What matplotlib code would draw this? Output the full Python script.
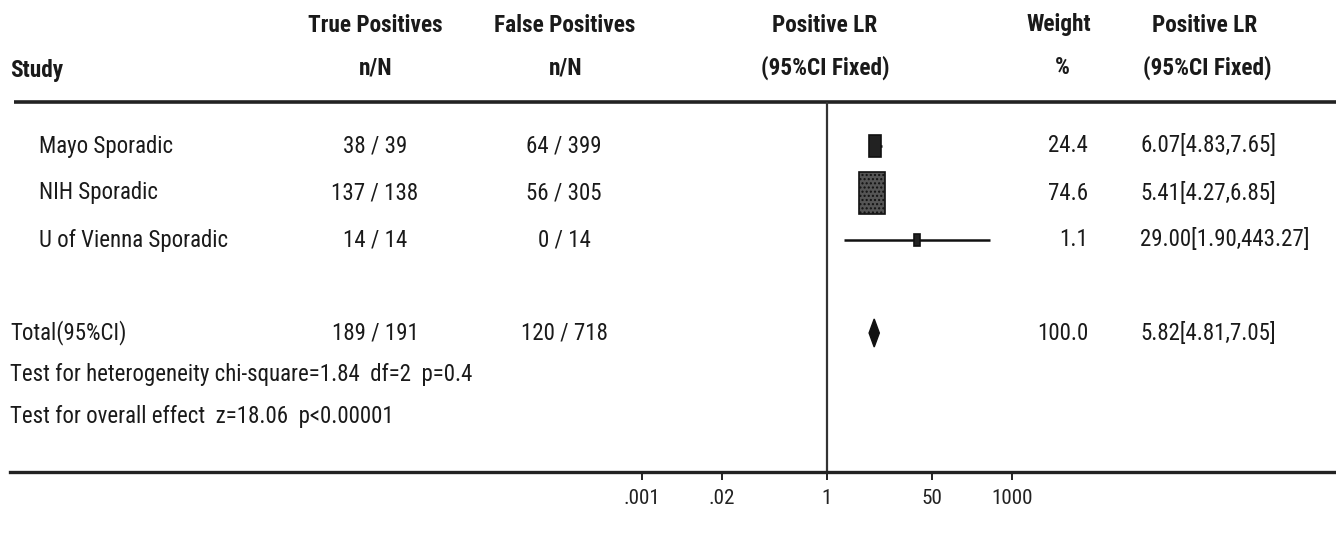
import numpy as np
import matplotlib
matplotlib.use("Agg")
import matplotlib.pyplot as plt
from matplotlib.patches import Rectangle, Polygon
from matplotlib import font_manager as fm

# ---------------- data ----------------
studies = ["Mayo Sporadic", "NIH Sporadic", "U of Vienna Sporadic"]
tp = ["38 / 39", "137 / 138", "14 / 14"]
fp = ["64 / 399", "56 / 305", "0 / 14"]
lr = [6.07, 5.41, 29.00]
lr_lo = [4.83, 4.27, 1.90]
lr_hi = [7.65, 6.85, 443.27]
weight = [24.4, 74.6, 1.1]

total_label = "Total(95%CI)"
total_tp = "189 / 191"
total_fp = "120 / 718"
total_lr = 5.82
total_lo = 4.81
total_hi = 7.05
total_weight = 100.0

het_text = "Test for heterogeneity chi-square=1.84  df=2  p=0.4"
overall_text = "Test for overall effect  z=18.06  p<0.00001"

xticks = [0.001, 0.02, 1, 50, 1000]
xticklabels = [".001", ".02", "1", "50", "1000"]

# ---------------- font choice (narrow sans if available) ----------------
fonts = fm.fontManager.ttflist
names = {f.name for f in fonts}
family, stretch = 'Liberation Sans', 'normal'
for cand in ['Liberation Sans Narrow', 'Arial Narrow', 'Noto Sans Condensed',
             'Roboto Condensed', 'Open Sans Condensed', 'DejaVu Sans Condensed']:
    if cand in names:
        family = cand
        break
else:
    for base in ['Noto Sans', 'Open Sans', 'Roboto', 'DejaVu Sans']:
        st = {f.stretch for f in fonts if f.name == base}
        if 'condensed' in st or 'semi-condensed' in st:
            family = base
            stretch = 'condensed' if 'condensed' in st else 'semi-condensed'
            break
plt.rcParams['font.family'] = [family, 'Liberation Sans', 'DejaVu Sans']
plt.rcParams['font.stretch'] = stretch

# ---------------- layout ----------------
W, H = 1336, 533
fig = plt.figure(figsize=(W / 100, H / 100), dpi=100)
renderer = fig.canvas.get_renderer()


def size_for(text, target_px, weight_='normal', ref=12.0):
    t = fig.text(0, 0, text, fontsize=ref, fontweight=weight_)
    w = t.get_window_extent(renderer).width
    t.remove()
    return ref * target_px / w


body_size = min(size_for("Mayo Sporadic", 134), 18.0)
hdr_size = min(size_for("True Positives", 135, 'bold'), 19.0)
tick_size = body_size * 0.92

bg = fig.add_axes([0, 0, 1, 1])
bg.set_xlim(0, W)
bg.set_ylim(H, 0)
bg.axis('off')

x_one = 827.0       # pixel of LR = 1
ppd = 61.7          # pixels per decade
ax_left, ax_right = 10, W
y_top, y_bot = 102, 472

fa = fig.add_axes([ax_left / W, (H - y_bot) / H, (ax_right - ax_left) / W, (y_bot - y_top) / H])
fa.set_xscale('log')
fa.set_xlim(10 ** ((ax_left - x_one) / ppd), 10 ** ((ax_right - x_one) / ppd))
fa.set_ylim(y_bot, y_top)
fa.patch.set_alpha(0)
for s in ['top', 'left', 'right']:
    fa.spines[s].set_visible(False)
fa.spines['bottom'].set_linewidth(2.4)
fa.spines['bottom'].set_color('#222222')
fa.set_yticks([])
fa.set_xticks(xticks)
fa.set_xticklabels(xticklabels)
fa.xaxis.set_minor_locator(matplotlib.ticker.NullLocator())
fa.tick_params(axis='x', direction='out', length=6, width=1.4, color='#222222',
               labelsize=tick_size, pad=6, labelcolor='#222222')

txt_color = '#1a1a1a'

# header
bg.plot([14, W], [y_top, y_top], color='#222222', lw=2.6, solid_capstyle='butt')
hdr = dict(fontsize=hdr_size, fontweight='bold', color=txt_color, va='center')
bg.text(10, 70, "Study", ha='left', **hdr)
bg.text(375, 25, "True Positives", ha='center', **hdr)
bg.text(376, 68, "n/N", ha='center', **hdr)
bg.text(565, 25, "False Positives", ha='center', **hdr)
bg.text(566, 68, "n/N", ha='center', **hdr)
bg.text(825, 25, "Positive LR", ha='center', **hdr)
bg.text(825, 68, "(95%CI Fixed)", ha='center', **hdr)
bg.text(1059, 25, "Weight", ha='center', **hdr)
bg.text(1062, 68, "%", ha='center', **hdr)
bg.text(1205, 25, "Positive LR", ha='center', **hdr)
bg.text(1207, 68, "(95%CI Fixed)", ha='center', **hdr)

# reference line at 1
fa.axvline(1, color='#333333', lw=1.6)

row_y = [146, 193, 240]
total_y = 333

body = dict(fontsize=body_size, color=txt_color, va='center')


def px_to_val(v, dpx):
    return v * 10 ** (dpx / ppd)


for i, y in enumerate(row_y):
    bg.text(39, y, studies[i], ha='left', **body)
    bg.text(375, y, tp[i], ha='center', **body)
    bg.text(564, y, fp[i], ha='center', **body)
    bg.text(1088, y, f"{weight[i]:.1f}", ha='right', **body)
    bg.text(1140, y, f"{lr[i]:.2f}[{lr_lo[i]:.2f},{lr_hi[i]:.2f}]", ha='left', **body)
    # CI line
    fa.plot([lr_lo[i], lr_hi[i]], [y, y], color='#111111', lw=1.8, solid_capstyle='butt')
    # box sized by weight
    bw = 5.6 + 0.27 * weight[i]
    bh = 11.5 + 0.40 * weight[i]
    x0 = px_to_val(lr[i], -bw / 2)
    x1 = px_to_val(lr[i], bw / 2)
    fc = '#555555' if weight[i] > 50 else '#222222'
    fa.add_patch(Rectangle((x0, y - bh / 2), x1 - x0, bh, facecolor=fc,
                           edgecolor='#111111', lw=1.2, hatch='....' if weight[i] > 50 else None,
                           zorder=3))

# total
bg.text(10, total_y, total_label, ha='left', **body)
bg.text(375, total_y, total_tp, ha='center', **body)
bg.text(564, total_y, total_fp, ha='center', **body)
bg.text(1088, total_y, f"{total_weight:.1f}", ha='right', **body)
bg.text(1140, total_y, f"{total_lr:.2f}[{total_lo:.2f},{total_hi:.2f}]", ha='left', **body)
dh = 14
fa.add_patch(Polygon([(total_lo, total_y), (total_lr, total_y - dh), (total_hi, total_y),
                      (total_lr, total_y + dh)], closed=True, facecolor='#111111',
                     edgecolor='#111111', lw=1, zorder=3))

bg.text(10, 375, het_text, ha='left', **body)
bg.text(10, 417, overall_text, ha='left', **body)

fig.savefig("out.png", dpi=100, facecolor='white')
